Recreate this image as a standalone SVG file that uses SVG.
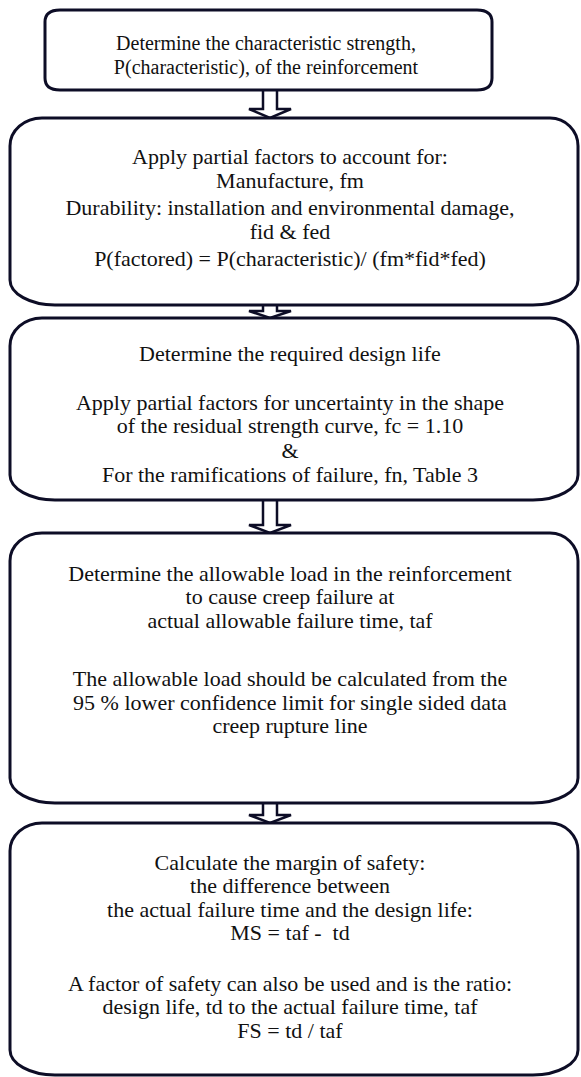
<svg xmlns="http://www.w3.org/2000/svg" width="581" height="1077" viewBox="0 0 581 1077">
<style>
.box{fill:#fff;stroke:#0d0d26;stroke-width:3}
.arr{fill:#fff;stroke:#0d0d26;stroke-width:2.5;stroke-linejoin:miter}
text{font-family:"Liberation Serif","Times New Roman",serif;font-size:22px;fill:#111;text-anchor:middle}
.sm{font-size:20px}
</style>
<rect width="581" height="1077" fill="#fff"/>
<g id="connectors">
<path class="arr" d="M263,90 V109 H249 L270,118 L291,109 H277 V90"/>
<path class="arr" d="M263,305 V311 H249 L270,318 L291,311 H277 V305"/>
<path class="arr" d="M263,500 V525 H249 L270,533 L291,525 H277 V500"/>
<path class="arr" d="M263,803 V815 H249 L270,823 L291,815 H277 V803"/>
</g>
<g id="n1">
<path class="box" d="M60,10 H477 Q492,10 492,22 V78 Q492,90 477,90 H60 Q45,90 45,78 V22 Q45,10 60,10 Z"/>
<text class="sm" x="266" y="50">Determine the characteristic strength,</text>
<text class="sm" x="266" y="74">P(characteristic), of the reinforcement</text>
</g>
<g id="n2">
<path class="box" d="M42,118 H550 A28,28 0 0 1 578,146 V280 A45,25 0 0 1 533,305 H55 A45,25 0 0 1 10,280 V146 A32,28 0 0 1 42,118 Z"/>
<text x="290" y="164">Apply partial factors to account for:</text>
<text x="290" y="188">Manufacture, fm</text>
<text x="290" y="215">Durability: installation and environmental damage,</text>
<text x="290" y="239">fid &amp; fed</text>
<text x="290" y="266">P(factored) = P(characteristic)/ (fm*fid*fed)</text>
</g>
<g id="n3">
<path class="box" d="M42,318 H550 A28,28 0 0 1 578,346 V475 A45,25 0 0 1 533,500 H55 A45,25 0 0 1 10,475 V346 A32,28 0 0 1 42,318 Z"/>
<text x="290" y="361">Determine the required design life</text>
<text x="290" y="410">Apply partial factors for uncertainty in the shape</text>
<text x="290" y="433">of the residual strength curve, fc = 1.10</text>
<text x="290" y="458">&amp;</text>
<text x="290" y="482">For the ramifications of failure, fn, Table 3</text>
</g>
<g id="n4">
<path class="box" d="M42,533 H550 A28,28 0 0 1 578,561 V778 A45,25 0 0 1 533,803 H55 A45,25 0 0 1 10,778 V561 A32,28 0 0 1 42,533 Z"/>
<text x="290" y="581">Determine the allowable load in the reinforcement</text>
<text x="290" y="604">to cause creep failure at</text>
<text x="290" y="628">actual allowable failure time, taf</text>
<text x="290" y="686">The allowable load should be calculated from the</text>
<text x="290" y="710">95 % lower confidence limit for single sided data</text>
<text x="290" y="733">creep rupture line</text>
</g>
<g id="n5">
<path class="box" d="M42,823 H550 A28,28 0 0 1 578,851 V1050 A45,25 0 0 1 533,1075 H55 A45,25 0 0 1 10,1050 V851 A32,28 0 0 1 42,823 Z"/>
<text x="290" y="870">Calculate the margin of safety:</text>
<text x="290" y="893">the difference between</text>
<text x="290" y="917">the actual failure time and the design life:</text>
<text x="290" y="940" xml:space="preserve">MS = taf -  td</text>
<text x="290" y="991">A factor of safety can also be used and is the ratio:</text>
<text x="290" y="1014">design life, td to the actual failure time, taf</text>
<text x="290" y="1038">FS = td / taf</text>
</g>
</svg>
